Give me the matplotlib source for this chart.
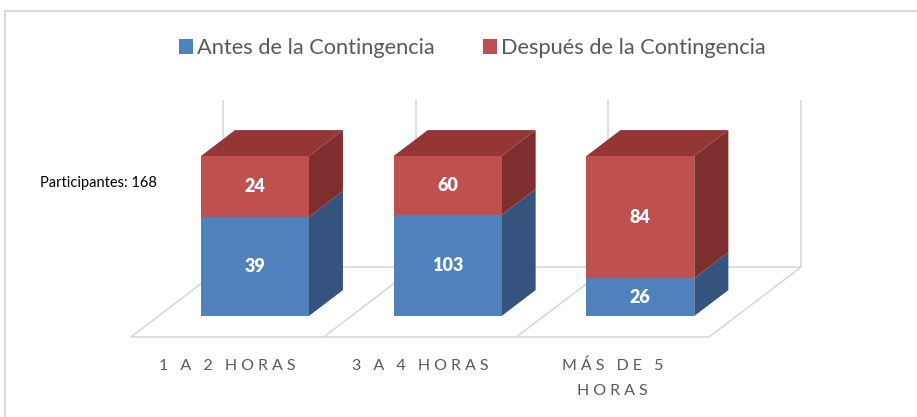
import matplotlib.pyplot as plt
from matplotlib.patches import Polygon, Patch

categorias = ['1 A 2 HORAS', '3 A 4 HORAS', 'MÁS DE 5\nHORAS']
antes = [39, 103, 26]
despues = [24, 60, 84]
series = ['Antes de la Contingencia', 'Después de la Contingencia']
participantes = 168

# colores: frente, lado, tapa
azul = ('#4F81BD', '#34547D', '#3A5F8E')
rojo = ('#C0504D', '#7E2F2D', '#943634')
gris = '#D9D9D9'
texto = '#595959'
fuente = ['Lato', 'DejaVu Sans']

# geometria pseudo 3D (pixeles)
x0, y0 = 131, 337
cat_w = 192.7
prof_dx, prof_dy = 92, 70
alto = 160
z_frente, z_fondo = 0.3, 0.67
medio = 0.28


def proj(x, v, z):
    return (x0 + x * cat_w + z * prof_dx, y0 - z * prof_dy - v * alto)


fig = plt.figure(figsize=(9.17, 4.17), dpi=100)
ax = fig.add_axes([0, 0, 1, 1])
ax.set_xlim(0, 917)
ax.set_ylim(417, 0)
ax.axis('off')

# marco
ax.plot([5, 917], [11, 11], color=gris, lw=1.5)
ax.plot([5, 5], [11, 417], color=gris, lw=1.5)

n = len(categorias)
# piso
piso = [proj(0, 0, 0), proj(n, 0, 0), proj(n, 0, 1), proj(0, 0, 1)]
ax.add_patch(Polygon(piso, closed=True, fill=False, edgecolor=gris, lw=1.2, zorder=0.5))
for k in range(1, n):
    a, b = proj(k, 0, 0), proj(k, 0, 1)
    ax.plot([a[0], b[0]], [a[1], b[1]], color=gris, lw=1.2, zorder=0.5)
# pared del fondo
for k in range(n + 1):
    a, b = proj(k, 0, 1), proj(k, 1.04, 1)
    ax.plot([a[0], b[0]], [a[1], b[1]], color=gris, lw=1.2, zorder=0.5)

# barras 100% apiladas
for i in range(n):
    total = antes[i] + despues[i]
    vals = [antes[i], despues[i]]
    xl, xr = i + 0.5 - medio, i + 0.5 + medio
    base = 0
    for j, (val, col) in enumerate(zip(vals, [azul, rojo])):
        f = val / total
        b, t = base, base + f
        lado = [proj(xr, b, z_frente), proj(xr, b, z_fondo),
                proj(xr, t, z_fondo), proj(xr, t, z_frente)]
        ax.add_patch(Polygon(lado, closed=True, facecolor=col[1], edgecolor='none', zorder=2))
        frente = [proj(xl, b, z_frente), proj(xr, b, z_frente),
                  proj(xr, t, z_frente), proj(xl, t, z_frente)]
        ax.add_patch(Polygon(frente, closed=True, facecolor=col[0], edgecolor='none', zorder=2))
        if j == len(vals) - 1:
            tapa = [proj(xl, t, z_frente), proj(xr, t, z_frente),
                    proj(xr, t, z_fondo), proj(xl, t, z_fondo)]
            ax.add_patch(Polygon(tapa, closed=True, facecolor=col[2], edgecolor='none', zorder=2))
        cx, cy = proj(i + 0.5, (b + t) / 2, z_frente)
        ax.text(cx, cy, str(val), color='white', fontsize=13, fontweight='heavy',
                ha='center', va='center', family=fuente, zorder=3)
        base = t

# etiquetas de categoria con espaciado
for i, cat in enumerate(categorias):
    cx, cy = proj(i + 0.5, 0, 0)
    lineas = ['\u2009\u2009'.join(l) for l in cat.split('\n')]
    ax.text(cx, 359, '\n'.join(lineas), color=texto, fontsize=11.5,
            ha='center', va='top', family=fuente, linespacing=1.95)

ax.text(40, 183, f'Participantes: {participantes}', color='black', fontsize=10.5,
        ha='left', va='center', family=fuente)

handles = [Patch(facecolor=azul[0], edgecolor='none'),
           Patch(facecolor=rojo[0], edgecolor='none')]
leg = ax.legend(handles, series, loc='center', bbox_to_anchor=(0.515, 0.885),
                bbox_transform=fig.transFigure, ncol=2, frameon=False,
                handlelength=0.65, handleheight=0.65, handletextpad=0.2,
                columnspacing=2.2, prop={'family': fuente, 'size': 15.7})
for t in leg.get_texts():
    t.set_color(texto)

fig.savefig('out.png', dpi=100)
